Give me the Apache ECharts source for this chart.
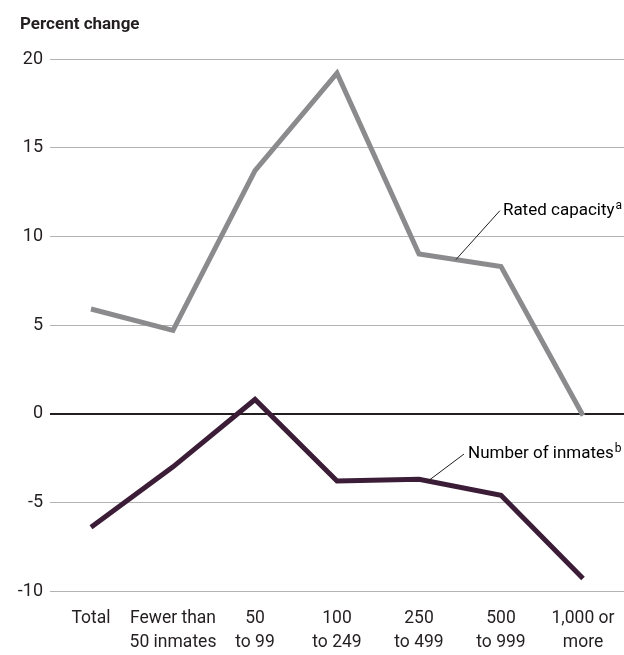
<!DOCTYPE html>
<html>
<head>
<meta charset="utf-8">
<script src="https://cdn.jsdelivr.net/npm/echarts@6/dist/echarts.min.js"></script>
<style>
html,body{margin:0;padding:0;background:#fff;}
#chart{width:624px;height:655px;}
</style>
</head>
<body>
<div id="chart"></div>
<script>
const categories = ['Total', 'Fewer than\n50 inmates', '50\nto 99', '100\nto 249', '250\nto 499', '500\nto 999', '1,000 or\nmore'];
const ratedCapacity = [5.9, 4.7, 13.7, 19.2, 9.0, 8.3, -0.1];
const numberOfInmates = [-6.4, -3.0, 0.8, -3.8, -3.7, -4.6, -9.3];
const yTicks = { min: -10, max: 20, interval: 5 };

const FONT = '"Liberation Sans Narrow", Roboto, sans-serif';
const chart = echarts.init(document.getElementById('chart'));

const option = {
  animation: false,
  backgroundColor: '#ffffff',
  title: {
    text: 'Percent change',
    left: 15, top: 11,
    textStyle: { fontFamily: FONT, fontWeight: 'bold', fontSize: 17, color: '#231f20' }
  },
  grid: { left: 50, right: 0, top: 59, bottom: 62, containLabel: false },
  xAxis: {
    type: 'category',
    data: categories,
    boundaryGap: true,
    axisLine: { show: false },
    axisTick: { show: false },
    splitLine: { show: false },
    axisLabel: {
      interval: 0, margin: 16,
      fontFamily: FONT, fontSize: 17.5, lineHeight: 24, color: '#231f20'
    }
  },
  yAxis: {
    type: 'value',
    min: yTicks.min, max: yTicks.max, interval: yTicks.interval,
    axisLine: { show: false },
    axisTick: { show: false },
    splitLine: { show: true, lineStyle: { color: '#b3b3b3', width: 1 } },
    axisLabel: { margin: 7, fontFamily: FONT, fontSize: 18, color: '#231f20' }
  },
  series: [
    {
      name: 'Rated capacity',
      type: 'line',
      data: ratedCapacity,
      symbol: 'none',
      lineStyle: { color: '#8b8b8d', width: 5, join: 'miter', cap: 'butt' },
      z: 3
    },
    {
      name: 'Number of inmates',
      type: 'line',
      data: numberOfInmates,
      symbol: 'none',
      lineStyle: { color: '#3b1d37', width: 5, join: 'miter', cap: 'butt' },
      z: 4,
      markLine: {
        silent: true,
        symbol: 'none',
        label: { show: false },
        lineStyle: { color: '#231f20', width: 2, type: 'solid' },
        data: [{ yAxis: 0 }],
        z: 2
      }
    }
  ]
};
chart.setOption(option);

function interp(values, i, t) {
  const a = chart.convertToPixel({ gridIndex: 0 }, [i, values[i]]);
  const b = chart.convertToPixel({ gridIndex: 0 }, [i + 1, values[i + 1]]);
  return [a[0] + (b[0] - a[0]) * t, a[1] + (b[1] - a[1]) * t];
}

const rich = {
  m: { fontFamily: FONT, fontSize: 17, color: '#231f20' },
  s: { fontFamily: FONT, fontSize: 12, color: '#231f20', verticalAlign: 'top', padding: [0, 0, 10, 1] }
};

const p1 = interp(ratedCapacity, 4, 0.45);
const e1 = [p1[0] + 44, p1[1] - 49];
const p2 = interp(numberOfInmates, 4, 0.11);
const e2 = [p2[0] + 36, p2[1] - 27];

chart.setOption({
  graphic: [
    { type: 'line', shape: { x1: p1[0], y1: p1[1], x2: e1[0], y2: e1[1] }, style: { stroke: '#231f20', lineWidth: 1 }, z: 10 },
    { type: 'text', x: e1[0] + 3, y: e1[1], style: { text: '{m|Rated capacity}{s|a}', rich: rich, verticalAlign: 'middle', align: 'left' }, z: 10 },
    { type: 'line', shape: { x1: p2[0], y1: p2[1], x2: e2[0], y2: e2[1] }, style: { stroke: '#231f20', lineWidth: 1 }, z: 10 },
    { type: 'text', x: e2[0] + 4, y: e2[1], style: { text: '{m|Number of inmates}{s|b}', rich: rich, verticalAlign: 'middle', align: 'left' }, z: 10 }
  ]
});
</script>
</body>
</html>
